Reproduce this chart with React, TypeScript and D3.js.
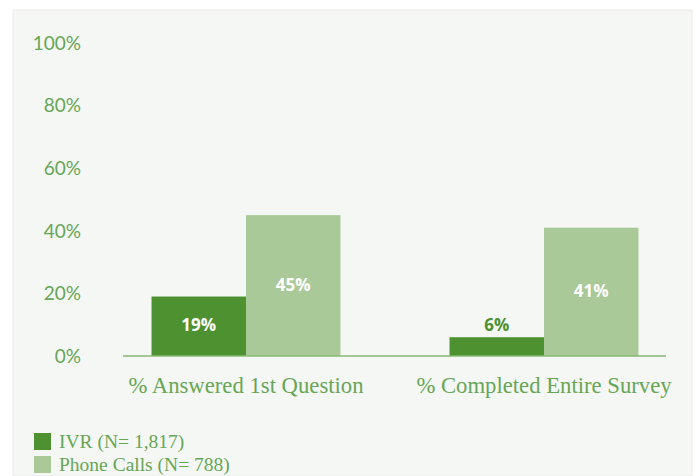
import React from "react";
import * as d3 from "d3";

const categories = ["% Answered 1st Question", "% Completed Entire Survey"];
const seriesNames = ["IVR (N= 1,817)", "Phone Calls (N= 788)"];
const ivrValues = [19, 6];
const phoneValues = [45, 41];
const yTicks = [0, 20, 40, 60, 80, 100];

const W = 698;
const H = 476;
const colors = ["#4e9130", "#a9c999"];
const textColor = "#66a656";

export default function App() {
  const y = d3.scaleLinear().domain([0, 100]).range([356, 43]);
  const x0 = d3.scaleBand<string>().domain(categories).range([97, 693]).paddingInner(0.366).paddingOuter(0.183);
  const x1 = d3.scaleBand<number>().domain([0, 1]).range([0, x0.bandwidth()]);
  const series = [ivrValues, phoneValues];

  return (
    <svg width={W} height={H} style={{ position: "absolute", left: 0, top: 0 }}>
      <rect x={0} y={0} width={W} height={H} fill="#ffffff" />
      <rect x={13} y={10} width={679} height={H - 10} fill="#f5f7f4" stroke="#ebedea" strokeWidth={1} />
      {yTicks.map((t) => (
        <text key={t} x={81} y={y(t)} dy="0.36em" textAnchor="end" fill={textColor}
          fontFamily="Lato, sans-serif" fontWeight={400} fontSize={19}>
          {t}%
        </text>
      ))}
      {categories.map((c, ci) => (
        <g key={c} transform={`translate(${x0(c)},0)`}>
          {series.map((vals, si) => {
            const v = vals[ci];
            const bx = x1(si)!;
            const bw = x1.bandwidth();
            const inside = y(0) - y(v) > 30;
            return (
              <g key={si}>
                <rect x={bx} y={y(v)} width={bw} height={y(0) - y(v)} fill={colors[si]} />
                <text x={bx + bw / 2} y={inside ? (y(v) + y(0)) / 2 - 1 : y(v) - 12} dy="0.35em"
                  textAnchor="middle" fill={inside ? "#ffffff" : colors[0]}
                  fontFamily="'Open Sans', sans-serif" fontWeight={700} fontSize={17}>
                  {v}%
                </text>
              </g>
            );
          })}
          <text x={x0.bandwidth() / 2} y={393} textAnchor="middle" fill={textColor}
            fontFamily="'Liberation Serif', serif" fontSize={22.7}>
            {c}
          </text>
        </g>
      ))}
      <line x1={123} x2={666} y1={y(0)} y2={y(0)} stroke="#86b873" strokeWidth={1.5} />
      {seriesNames.map((s, i) => (
        <g key={s} transform={`translate(34,${433 + i * 23})`}>
          <rect width={17} height={17} fill={colors[i]} />
          <text x={25} y={15} fill={textColor} fontFamily="'Liberation Serif', serif" fontSize={19.5}>
            {s}
          </text>
        </g>
      ))}
    </svg>
  );
}
